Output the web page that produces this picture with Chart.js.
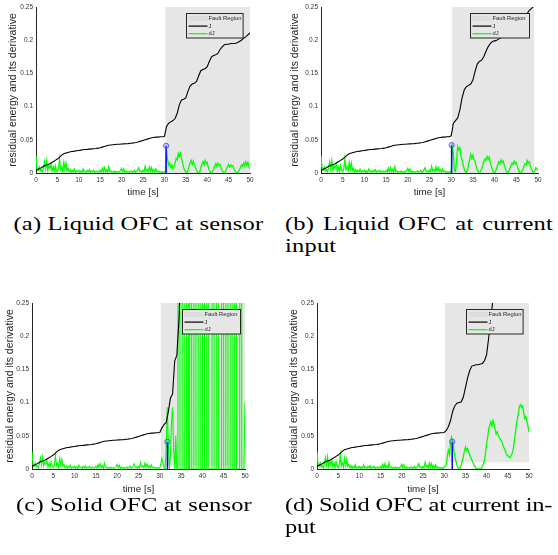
<!DOCTYPE html>
<html>
<head>
<meta charset="utf-8">
<script src="https://cdn.jsdelivr.net/npm/chart.js@4.4.1/dist/chart.umd.min.js"></script>
<style>
  html, body { margin: 0; padding: 0; background: #fff; }
  body { position: relative; width: 558px; height: 555px; overflow: hidden; }
  canvas { position: absolute; }
  .cap {
    position: absolute;
    font-family: "Liberation Serif", serif;
    font-size: 24.5px;
    line-height: 28.2px;
    letter-spacing: 0.2px;
    color: #000;
    transform: scaleY(0.78);
    transform-origin: 0 0;
  }
  .cap .just { text-align: justify; text-align-last: justify; }
</style>
</head>
<body>
<canvas id="chartA" width="270" height="200" style="left:0px; top:0px;"></canvas>
<canvas id="chartB" width="278" height="200" style="left:280px; top:0px;"></canvas>
<canvas id="chartC" width="270" height="207" style="left:0px; top:290px;"></canvas>
<canvas id="chartD" width="278" height="207" style="left:280px; top:290px;"></canvas>

<div class="cap" style="left:13.5px; top:213px; width:256px;"><div>(a) Liquid OFC at sensor</div></div>
<div class="cap" style="left:285px; top:213px; width:268px;"><div class="just">(b) Liquid OFC at current</div><div>input</div></div>
<div class="cap" style="left:16px; top:494px; width:256px;"><div>(c) Solid OFC at sensor</div></div>
<div class="cap" style="left:285px; top:494px; width:270px; letter-spacing:-0.2px;"><div>(d) Solid OFC at current in-</div><div>put</div></div>

<script>
// sample spacing of the logged signals [s]
const dJStep = 0.25;
const jStep = 0.5;

// dJ before the fault, t = 0 .. 29.75 s (same run in all four cases)
const dJBeforeFault = [
  0.026, 0.006, 0.004, 0.009,
  0.003, 0.005, 0.002, 0.008,
  0.017, 0.006, 0.018, 0.004,
  0.011, 0.007, 0.013, 0.003,
  0.009, 0.002, 0.011, 0.004,
  0.002, 0.006, 0.021, 0.005,
  0.009, 0.003, 0.016, 0.006,
  0.015, 0.004, 0.007, 0.002,
  0.005, 0.001, 0.004, 0.002,
  0.006, 0.001, 0.003, 0.002,
  0.004, 0.001, 0.003, 0.001,
  0.006, 0.002, 0.003, 0.001,
  0.004, 0.002, 0.005, 0.001,
  0.003, 0.002, 0.004, 0.001,
  0.002, 0.003, 0.001, 0.002,
  0.004, 0.001, 0.007, 0.002,
  0.008, 0.002, 0.005, 0.001,
  0.009, 0.002, 0.003, 0.001,
  0.002, 0.001, 0.003, 0.001,
  0.002, 0.001, 0.002, 0.004,
  0.007, 0.002, 0.006, 0.001,
  0.003, 0.001, 0.002, 0.001,
  0.002, 0.003, 0.001, 0.002,
  0.004, 0.001, 0.002, 0.005,
  0.008, 0.002, 0.003, 0.001,
  0.004, 0.002, 0.010, 0.003,
  0.005, 0.002, 0.009, 0.003,
  0.008, 0.002, 0.005, 0.001,
  0.006, 0.002, 0.003, 0.001,
  0.002, 0.001, 0.002, 0.001
];

// J before the fault, t = 0 .. 29.5 s
const jBeforeFault = [
  0.004, 0.0055, 0.007, 0.009, 0.011, 0.012, 0.013, 0.015, 0.017, 0.019,
  0.021, 0.024, 0.027, 0.029, 0.030, 0.031, 0.032, 0.0325, 0.033, 0.0335,
  0.034, 0.0345, 0.035, 0.0353, 0.0356, 0.036, 0.0363, 0.0366, 0.037, 0.0375,
  0.038, 0.039, 0.040, 0.041, 0.0417, 0.0422, 0.0426, 0.043, 0.0432, 0.0434,
  0.0436, 0.0438, 0.044, 0.0443, 0.0447, 0.045, 0.0455, 0.046, 0.047, 0.048,
  0.049, 0.050, 0.051, 0.052, 0.053, 0.0535, 0.054, 0.054, 0.0545, 0.0545
];

// dJ after the fault, t = 30 .. 50 s
const dJAfterA = [
  0.002, 0.001, 0.033, 0.020,
  0.012, 0.015, 0.008, 0.012,
  0.006, 0.010, 0.015, 0.022,
  0.020, 0.029, 0.024, 0.030,
  0.022, 0.015, 0.008, 0.004,
  0.001, 0.000, 0.004, 0.010,
  0.015, 0.019, 0.013, 0.018,
  0.012, 0.008, 0.004, 0.001,
  0.000, 0.002, 0.008, 0.013,
  0.017, 0.012, 0.019, 0.014,
  0.016, 0.009, 0.004, 0.001,
  0.000, 0.002, 0.006, 0.011,
  0.014, 0.010, 0.015, 0.012,
  0.013, 0.007, 0.003, 0.001,
  0.000, 0.002, 0.006, 0.010,
  0.013, 0.009, 0.012, 0.010,
  0.011, 0.006, 0.003, 0.001,
  0.000, 0.001, 0.004, 0.008,
  0.012, 0.010, 0.015, 0.011,
  0.017, 0.012, 0.016, 0.009,
  0.006
];
const dJAfterB = [
  0.002, 0.040, 0.030, 0.003,
  0.002, 0.020, 0.040, 0.035,
  0.038, 0.025, 0.020, 0.012,
  0.006, 0.002, 0.000, 0.004,
  0.012, 0.020, 0.028, 0.022,
  0.027, 0.020, 0.018, 0.010,
  0.005, 0.002, 0.000, 0.002,
  0.006, 0.011, 0.017, 0.021,
  0.019, 0.025, 0.020, 0.024,
  0.016, 0.010, 0.005, 0.001,
  0.000, 0.003, 0.008, 0.013,
  0.017, 0.014, 0.020, 0.016,
  0.018, 0.011, 0.006, 0.002,
  0.000, 0.002, 0.006, 0.011,
  0.015, 0.013, 0.018, 0.014,
  0.016, 0.010, 0.005, 0.001,
  0.000, 0.002, 0.005, 0.010,
  0.014, 0.012, 0.019, 0.015,
  0.017, 0.011, 0.006, 0.002,
  0.000, 0.003, 0.008, 0.006,
  0.004
];
const dJAfterC = [
  0.002, 0.008, 0.016, 0.009,
  0.002, 0.000, 0.030, 0.093,
  0.040, 0.000, 0.020, 0.070,
  0.093, 0.030, 0.000, 0.050,
  0.000, 0.000, 3.1, 0.000,
  0.000, 0.000, 2.9, 0.000,
  0.000, 0.000, 3.2, 0.000,
  0.000, 3.0, 0.000, 0.000,
  0.000, 3.3, 0.000, 0.000,
  0.000, 2.8, 0.000, 0.000,
  0.000, 3.1, 0.000, 0.000,
  0.000, 3.0, 0.000, 0.000,
  0.000, 0.000, 3.2, 0.000,
  0.000, 0.000, 2.9, 0.000,
  0.000, 0.000, 0.000, 3.1,
  0.000, 0.000, 0.000, 3.0,
  0.000, 0.000, 0.000, 3.2,
  0.000, 0.000, 0.000, 2.9,
  0.000, 0.000, 0.000, 0.000,
  3.1, 0.000, 0.000, 0.000,
  0.100
];
const dJAfterD = [
  0.003, 0.004, 0.006, 0.020,
  0.028, 0.022, 0.040, 0.048,
  0.042, 0.030, 0.020, 0.012,
  0.006, 0.002, 0.000, 0.001,
  0.006, 0.012, 0.018, 0.026,
  0.033, 0.028, 0.031, 0.025,
  0.022, 0.018, 0.014, 0.010,
  0.006, 0.004, 0.001, 0.000,
  0.000, 0.000, 0.000, 0.001,
  0.004, 0.008, 0.013, 0.025,
  0.038, 0.048, 0.060, 0.066,
  0.071, 0.065, 0.073, 0.068,
  0.060, 0.053, 0.056, 0.050,
  0.048, 0.044, 0.043, 0.038,
  0.033, 0.030, 0.025, 0.021,
  0.020, 0.018, 0.017, 0.020,
  0.023, 0.028, 0.040, 0.052,
  0.066, 0.075, 0.085, 0.094,
  0.097, 0.093, 0.095, 0.085,
  0.076, 0.079, 0.072, 0.065,
  0.056
];

// J after the fault, t = 30 .. 50 s
const jAfterA = [
  0.055, 0.070, 0.075, 0.077, 0.079, 0.082, 0.090, 0.103, 0.110, 0.111,
  0.113, 0.123, 0.131, 0.134, 0.135, 0.138, 0.146, 0.154, 0.156, 0.157,
  0.160, 0.168, 0.175, 0.177, 0.178, 0.180, 0.186, 0.190, 0.193, 0.194,
  0.194, 0.195, 0.195, 0.195, 0.196, 0.198, 0.200, 0.203, 0.205, 0.208,
  0.211
];
const jAfterB = [
  0.056, 0.075, 0.079, 0.083, 0.095, 0.113, 0.125, 0.130, 0.132, 0.134,
  0.140, 0.153, 0.164, 0.168, 0.170, 0.175, 0.183, 0.190, 0.195, 0.198,
  0.199, 0.200, 0.202, 0.204, 0.206, 0.209, 0.212, 0.215, 0.219, 0.222,
  0.225, 0.228, 0.230, 0.232, 0.236, 0.240, 0.245, 0.248, 0.251, 0.254,
  0.257
];
const jAfterC = [
  0.055, 0.062, 0.067, 0.070, 0.086, 0.107, 0.113, 0.163, 0.171, 0.225,
  0.31, 0.37, 0.44, 0.52, 0.58, 0.67, 0.74, 0.83, 0.90, 1.00,
  1.08, 1.19, 1.27, 1.38, 1.46, 1.57, 1.65, 1.77, 1.85, 1.96,
  2.05, 2.17, 2.25, 2.37, 2.46, 2.58, 2.67, 2.79, 2.88, 3.00,
  3.09
];
const jAfterD = [
  0.055, 0.058, 0.064, 0.073, 0.087, 0.095, 0.099, 0.100, 0.101, 0.108,
  0.122, 0.137, 0.148, 0.155, 0.156, 0.157, 0.157, 0.158, 0.159, 0.163,
  0.172, 0.198, 0.228, 0.255, 0.29, 0.33, 0.36, 0.40, 0.43, 0.47,
  0.50, 0.54, 0.57, 0.61, 0.65, 0.69, 0.72, 0.77, 0.80, 0.85,
  0.89
];

// detection instant (stem) and fault window per case
const stemTimes = [30.4, 30.1, 31.8, 31.9];
const stemValues = [0.041, 0.042, 0.041, 0.041];
const faultStarts = [30.2, 30.2, 30.2, 30.2];
const faultEnds = [50, 49.2, 50, 50];
const faultBottoms = [0, 0, 0.005, 0.01];

const xTicksMax = 50;
const yTicksMax = 0.25;

function toPoints(values, step) {
  return values.map((v, i) => ({ x: i * step, y: v }));
}

// legend box drawn inside the plot, top right, like the matlab one
const insetLegend = {
  id: 'insetLegend',
  afterDraw(chart, args, opts) {
    if (!opts || !opts.width) return;
    const { ctx, chartArea } = chart;
    const w = opts.width, h = 24.5;
    const x = Math.round(chartArea.right - opts.right - w) + 0.5;
    const y = Math.round(chartArea.top + opts.top) + 0.5;
    ctx.save();
    ctx.fillStyle = '#e6e6e6';
    ctx.fillRect(x, y, w, h);
    const items = chart.data.datasets.filter(d => d.inLegend);
    items.forEach((d, i) => {
      const cy = y + 5 + i * 7.6;
      if (d.fill) {
        ctx.fillStyle = '#dddddd';
        ctx.fillRect(x + 2, cy - 2.5, 19, 5);
      } else {
        ctx.strokeStyle = d.borderColor;
        ctx.lineWidth = 1.2;
        ctx.beginPath();
        ctx.moveTo(x + 2, cy);
        ctx.lineTo(x + 21, cy);
        ctx.stroke();
      }
      ctx.fillStyle = '#262626';
      ctx.font = '5.8px "Liberation Sans"';
      ctx.textBaseline = 'middle';
      ctx.fillText(d.label, x + 22, cy);
    });
    ctx.strokeStyle = '#262626';
    ctx.lineWidth = 1;
    ctx.strokeRect(x, y, w, h);
    ctx.restore();
  }
};

const panels = [
  { id: 'chartA', dJ: dJBeforeFault.concat(dJAfterA), j: jBeforeFault.concat(jAfterA), dJWidth: 1.3,
    yAxisWidth: 36, xAxisHeight: 27, padTop: 7, padRight: 20, yTitlePad: 6.7, xTitlePad: 1.4,
    legendRight: 7.7, legendTop: 5.7, legendWidth: 56.6 },
  { id: 'chartB', dJ: dJBeforeFault.concat(dJAfterB), j: jBeforeFault.concat(jAfterB), dJWidth: 1.3,
    yAxisWidth: 41, xAxisHeight: 27, padTop: 7, padRight: 20, yTitlePad: 9, xTitlePad: 1.4,
    legendRight: 9, legendTop: 6.3, legendWidth: 59 },
  { id: 'chartC', dJ: dJBeforeFault.concat(dJAfterC), j: jBeforeFault.concat(jAfterC), dJWidth: 1.1,
    yAxisWidth: 32, xAxisHeight: 28, padTop: 13, padRight: 25, yTitlePad: 4, xTitlePad: 1.5,
    legendRight: 5, legendTop: 5.6, legendWidth: 58 },
  { id: 'chartD', dJ: dJBeforeFault.concat(dJAfterD), j: jBeforeFault.concat(jAfterD), dJWidth: 1.3,
    yAxisWidth: 37, xAxisHeight: 28, padTop: 13, padRight: 29, yTitlePad: 7.4, xTitlePad: 1.5,
    legendRight: 6.7, legendTop: 5.6, legendWidth: 56.6 }
];

const axisFont = 'Liberation Sans';

panels.forEach((p, k) => {
  new Chart(document.getElementById(p.id), {
    type: 'line',
    data: {
      datasets: [
        {
          label: 'Fault Region', inLegend: true,
          data: [{ x: faultStarts[k], y: yTicksMax }, { x: faultEnds[k], y: yTicksMax }],
          fill: { value: faultBottoms[k] },
          backgroundColor: '#e6e6e6',
          borderColor: 'rgba(0,0,0,0)', borderWidth: 0, pointRadius: 0, order: 3
        },
        {
          label: 'J', inLegend: true,
          data: toPoints(p.j, jStep),
          borderColor: '#000000', borderWidth: 1.1, pointRadius: 0, order: 1
        },
        {
          label: 'dJ', inLegend: true,
          data: toPoints(p.dJ, dJStep),
          borderColor: '#00ff00', borderWidth: p.dJWidth, pointRadius: 0, order: 2
        },
        {
          label: 'stem',
          data: [{ x: stemTimes[k], y: 0 }, { x: stemTimes[k], y: stemValues[k] }],
          borderColor: '#0000ff', borderWidth: 1.5,
          pointRadius: [0, 2.6], pointBorderColor: '#3344ff', pointBorderWidth: 0.8,
          pointBackgroundColor: 'rgba(120,140,255,0.35)', order: 0
        }
      ]
    },
    options: {
      responsive: false,
      animation: false,
      devicePixelRatio: 1,
      layout: { padding: { top: p.padTop, right: p.padRight, left: 0, bottom: 0 } },
      plugins: {
        legend: { display: false },
        tooltip: { enabled: false },
        insetLegend: { right: p.legendRight, top: p.legendTop, width: p.legendWidth }
      },
      scales: {
        x: {
          type: 'linear', min: 0, max: xTicksMax,
          afterFit: s => { s.height = p.xAxisHeight; },
          grid: { display: false, drawTicks: false },
          border: { color: '#262626', width: 1 },
          ticks: { stepSize: 5, autoSkip: false, maxRotation: 0, padding: 3, color: '#333333',
                   font: { family: axisFont, size: 6.5 } },
          title: { display: true, text: 'time [s]', color: '#262626',
                   font: { family: axisFont, size: 9.8 }, padding: { top: 0, bottom: p.xTitlePad } }
        },
        y: {
          type: 'linear', min: 0, max: yTicksMax,
          afterFit: s => { s.width = p.yAxisWidth; },
          grid: { display: false, drawTicks: false },
          border: { color: '#262626', width: 1 },
          ticks: { stepSize: 0.05, padding: 3, color: '#333333',
                   font: { family: axisFont, size: 6.5 },
                   callback: v => String(+v.toFixed(2)) },
          title: { display: true, text: 'residual energy and its derivative', color: '#262626',
                   font: { family: axisFont, size: 10.5 }, padding: { top: p.yTitlePad, bottom: 0 } }
        }
      }
    },
    plugins: [insetLegend]
  });
});
</script>
</body>
</html>
